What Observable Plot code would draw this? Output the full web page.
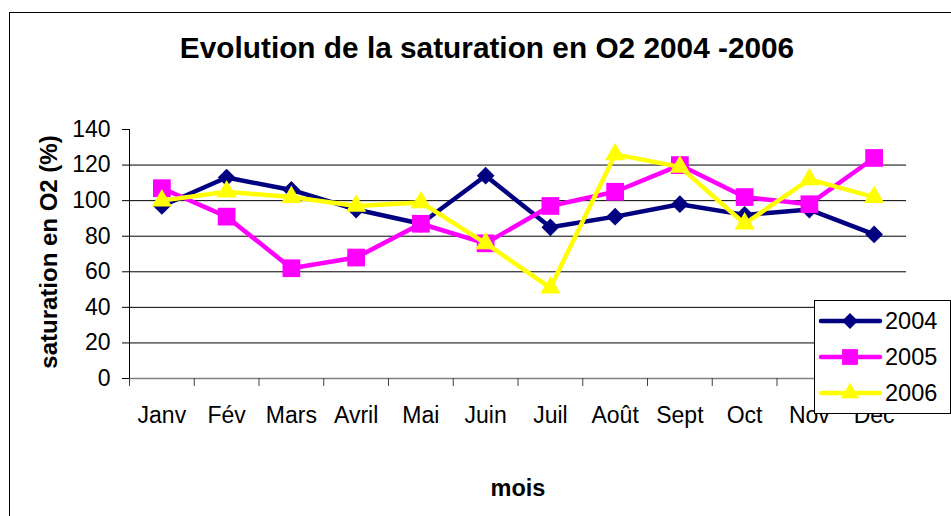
<!DOCTYPE html>
<html><head><meta charset="utf-8">
<script src="https://cdn.jsdelivr.net/npm/d3@7"></script>
<script src="https://cdn.jsdelivr.net/npm/@observablehq/plot@0.6"></script>
<style>
body{margin:0;background:#fff;font-family:"Liberation Sans",Arial,sans-serif;}
#wrap{position:relative;width:951px;height:516px;overflow:hidden;background:#fff;}
#chart{position:absolute;left:0;top:0;}
#border{position:absolute;left:9px;top:12px;width:1000px;height:600px;border-top:1px solid #000;border-left:1px solid #000;}
#legend{position:absolute;left:814px;top:300px;width:137px;height:114px;}
</style></head><body>
<div id="wrap"><div id="border"></div><div id="chart"></div><div id="legend"></div></div>
<script>
const months = ["Janv","Fév","Mars","Avril","Mai","Juin","Juil","Août","Sept","Oct","Nov","Dec"];
const years = ["2004","2005","2006"];
const values2004 = [97, 113, 106, 95, 87, 114, 85, 91, 98, 92, 95, 81];
const values2005 = [107, 91, 62, 68, 87, 76, 97, 105, 120, 102, 98, 124];
const values2006 = [100, 105, 102, 97, 99, 76, 51, 126, 119, 87, 112, 102];
const yTicks = [0, 20, 40, 60, 80, 100, 120, 140];
const title = "Evolution de la saturation en O2 2004 -2006";
const yLabel = "saturation en O2 (%)";
const xLabel = "mois";

const colors = {"2004": "#000080", "2005": "#FF00FF", "2006": "#FFFF00"};
const symbols = {"2004": "diamond2", "2005": "square", "2006": "triangle"};
const radii = {"2004": 8, "2005": 10, "2006": 7.5};
const series = {"2004": values2004, "2005": values2005, "2006": values2006};

const rows = y => series[y].map((v, i) => ({i, month: months[i], v}));
const boundaries = d3.range(months.length + 1).map(k => k - 0.5);

const marks = [
  Plot.ruleY(yTicks.filter(t => t > 0 && t < 140), {stroke: "#000", strokeWidth: 1}),
  Plot.ruleY([0], {stroke: "#808080", strokeWidth: 1.5}),
  Plot.axisX({ticks: boundaries, tickSize: 8, tickFormat: () => "", label: null, stroke: "#404040"}),
  Plot.axisX({ticks: d3.range(months.length), tickSize: 0, tickPadding: 28, tickFormat: i => months[i], label: null}),
  Plot.axisY({ticks: yTicks, tickSize: 7, tickPadding: 12, label: null, stroke: "#000"}),
  Plot.ruleX([-0.5], {y1: 0, y2: 140, stroke: "#000", strokeWidth: 1}),
];
for (const y of years) {
  marks.push(Plot.line(rows(y), {x: "i", y: "v", stroke: colors[y], strokeWidth: 4.5}));
  marks.push(Plot.dot(rows(y), {x: "i", y: "v", symbol: symbols[y], fill: colors[y], r: radii[y]}));
}
marks.push(Plot.text([title], {frameAnchor: "top", textAnchor: "middle", lineAnchor: "middle", dx: -31, dy: -81, fontSize: 29.8, fontWeight: "bold"}));
marks.push(Plot.text([xLabel], {frameAnchor: "bottom", textAnchor: "middle", lineAnchor: "middle", dx: 0, dy: 109.5, fontSize: 23.5, fontWeight: "bold"}));
marks.push(Plot.text([yLabel], {frameAnchor: "left", textAnchor: "middle", lineAnchor: "middle", dx: -80, dy: -2, rotate: -90, fontSize: 24, fontWeight: "bold"}));

const chart = Plot.plot({
  width: 951,
  height: 516,
  marginLeft: 129,
  marginRight: 45,
  marginTop: 129,
  marginBottom: 138,
  x: {domain: [-0.5, 11.5]},
  y: {domain: [0, 140]},
  style: {fontFamily: "'Liberation Sans', Arial, sans-serif", fontSize: "23px", color: "#000", background: "transparent", overflow: "visible"},
  marks
});
document.getElementById("chart").appendChild(chart);

// Legend
const lw = 137, lh = 114;
const svg = d3.select("#legend").append("svg").attr("width", lw).attr("height", lh)
  .style("font-family", "'Liberation Sans', Arial, sans-serif");
svg.append("rect").attr("x", 0.5).attr("y", 0.5).attr("width", lw - 1).attr("height", lh - 1)
  .attr("fill", "#fff").attr("stroke", "#000");
const symMap = {"diamond2": d3.symbolDiamond2, "square": d3.symbolSquare, "triangle": d3.symbolTriangle};
years.forEach((y, k) => {
  const cy = 21 + k * 36;
  const g = svg.append("g");
  g.append("line").attr("x1", 7).attr("x2", 66).attr("y1", cy).attr("y2", cy)
    .attr("stroke", colors[y]).attr("stroke-width", 4.5).attr("stroke-linecap", "round");
  g.append("path").attr("d", d3.symbol(symMap[symbols[y]], Math.PI * radii[y] * radii[y] * 0.8)())
    .attr("transform", `translate(36,${cy})`).attr("fill", colors[y]);
  g.append("text").attr("x", 71).attr("y", cy).attr("dy", "0.35em")
    .attr("font-size", 23.5).attr("fill", "#000").text(y);
});
</script>
</body></html>
